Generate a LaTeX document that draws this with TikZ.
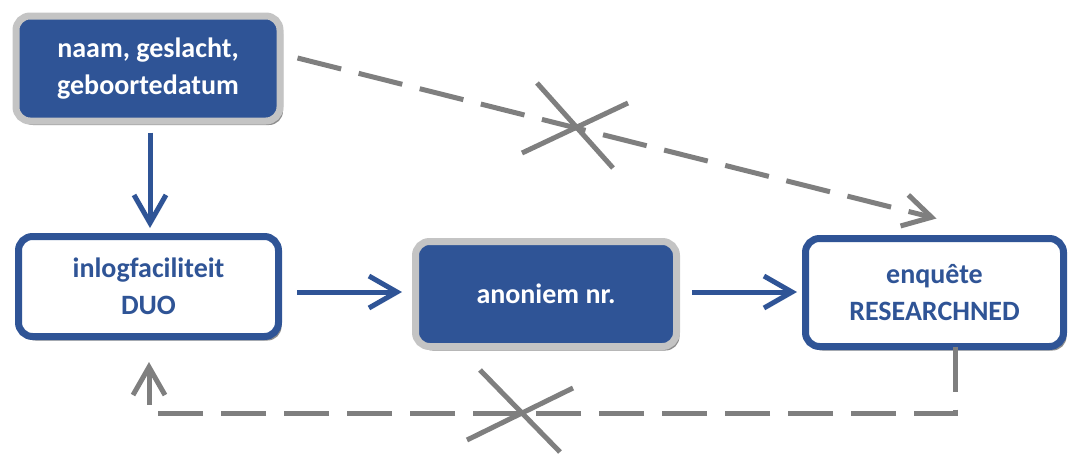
\documentclass[tikz,border=0pt]{standalone}
\usepackage{fontspec}
\setmainfont{Carlito}
\usetikzlibrary{arrows.meta,shadows,calc}
\definecolor{duoblue}{HTML}{2F5496}
\definecolor{lightgrey}{HTML}{C4C4C4}
\definecolor{shadowgrey}{HTML}{8E8E8E}
\definecolor{lineg}{HTML}{7F7F7F}
\tikzset{
  boxbase/.style={rectangle, rounded corners=14pt, line width=7pt, outer sep=0pt,
    align=center, font=\fontsize{28}{37}\selectfont\bfseries,
    drop shadow={shadow xshift=3pt, shadow yshift=-4pt, fill=shadowgrey, opacity=1}},
  darkbox/.style={boxbase, draw=lightgrey, fill=duoblue, text=white},
  lightbox/.style={boxbase, draw=duoblue, fill=white, text=duoblue},
  bluearrow/.style={draw=duoblue, line width=5pt, -{Straight Barb[length=28pt,width=32pt,line width=5pt]}},
  greyarrow/.style={draw=lineg, line width=5pt, dash pattern=on 45pt off 18pt, -{Straight Barb[length=28pt,width=32pt,line width=5pt]}},
  crossline/.style={draw=lineg, line width=5pt},
}
\begin{document}
\begin{tikzpicture}[x=1pt,y=-1pt]
\useasboundingbox (0,0) rectangle (1069,453);
\node[darkbox, minimum width=264pt, minimum height=105pt] (b1) at (148,68.5) {naam, geslacht,\\geboortedatum};
\node[lightbox, minimum width=260pt, minimum height=100pt] (b2) at (148.5,286.5) {inlogfaciliteit\\DUO};
\node[darkbox, minimum width=261pt, minimum height=105pt] (b3) at (546,294) {anoniem nr.};
\node[lightbox, minimum width=258pt, minimum height=108pt] (b4) at (934.5,292.5) {enquête\\RESEARCHNED};

% blue arrows
\draw[bluearrow] ([xshift=2pt,yshift=-11.5pt]b1.south) -- ([xshift=1.5pt,yshift=8.5pt]b2.north);
\draw[bluearrow] ([xshift=18.5pt,yshift=-5.5pt]b2.east) -- ([xshift=-13.5pt,yshift=2pt]b3.west);
\draw[bluearrow] ([xshift=15.5pt,yshift=2pt]b3.east) -- ([xshift=-8.5pt,yshift=0.5pt]b4.west);

% grey dashed arrows
\draw[greyarrow] ([xshift=17.5pt,yshift=10.5pt]b1.east) -- ([xshift=2pt,yshift=20pt]b4.north);
\draw[greyarrow] ([xshift=20.5pt]b4.south) |- ([xshift=0.5pt,yshift=-77pt]b2.south) -- ([xshift=0.5pt,yshift=-25.5pt]b2.south);

% crosses
\coordinate (c1) at (577,127);
\draw[crossline] ($(c1)+(-40,-44)$) -- ($(c1)+(36,41)$);
\draw[crossline] ($(c1)+(-55,26)$) -- ($(c1)+(51,-24)$);
\coordinate (c2) at (521,413);
\draw[crossline] ($(c2)+(-41,-43)$) -- ($(c2)+(39,39)$);
\draw[crossline] ($(c2)+(-54,27)$) -- ($(c2)+(52,-25)$);
\end{tikzpicture}
\end{document}
